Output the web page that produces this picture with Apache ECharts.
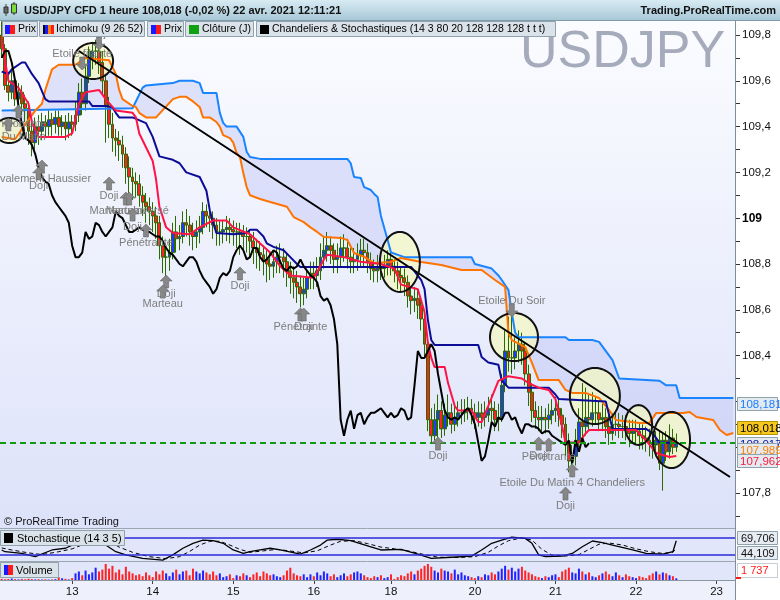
<!DOCTYPE html>
<html>
<head>
<meta charset="utf-8">
<script src="https://cdn.jsdelivr.net/npm/echarts/dist/echarts.min.js"></script>
<style>html,body{margin:0;padding:0;background:#fff;}#chart{width:780px;height:600px;}</style>
</head>
<body>
<div id="chart"></div>
<script>
// ---------- time slots (hourly) ----------
const sessions = [['12',3,23],['13',0,23],['14',0,23],['15',0,23],['16',0,22],['18',23,23],['19',0,23],['20',0,23],['21',0,23],['22',0,23],['23',0,5]];
const shownDays = ['13','14','15','16','18','20','21','22','23'];

// ---------- candles ----------
const opens = [
109.80,109.74,109.58,109.55,109.60,109.52,109.55,109.50,109.48,109.38,
109.33,109.40,109.38,109.42,109.40,109.43,109.41,109.44,109.40,109.42,
109.39,109.42,109.41,109.45,109.55,109.50,109.62,109.70,109.73,109.73,
109.68,109.60,109.49,109.41,109.35,109.34,109.32,109.28,109.22,109.18,
109.16,109.15,109.10,109.07,109.05,109.03,109.01,108.98,108.88,108.83,
108.83,108.85,108.94,108.91,108.92,108.98,108.97,108.94,108.92,108.94,
108.96,109.03,109.01,109.00,108.97,108.94,108.94,108.95,108.96,108.95,
108.94,108.94,108.93,108.92,108.92,108.90,108.87,108.85,108.84,108.82,
108.80,108.79,108.81,108.83,108.83,108.81,108.77,108.74,108.72,108.70,
108.67,108.69,108.74,108.76,108.75,108.77,108.83,108.86,108.88,108.86,
108.82,108.83,108.87,108.87,108.83,108.81,108.82,108.84,108.86,108.85,
108.81,108.78,108.77,108.79,108.78,108.79,108.82,108.79,108.77,108.75,
108.74,108.72,108.66,108.64,108.65,108.62,108.56,108.45,108.12,108.05,
108.12,108.16,108.08,108.14,108.15,108.10,108.13,108.15,108.15,108.16,
108.17,108.15,108.13,108.15,108.13,108.14,108.17,108.16,108.12,108.13,
108.27,108.42,108.39,108.39,108.42,108.45,108.42,108.32,108.24,108.16,
108.13,108.12,108.13,108.12,108.14,108.16,108.17,108.14,108.10,108.02,
107.94,107.96,108.03,108.11,108.09,108.13,108.12,108.15,108.15,108.12,
108.13,108.09,108.06,108.10,108.10,108.09,108.09,108.08,108.06,108.07,
108.07,108.05,108.04,108.03,108.02,108.01,108.03,107.93,108.03,107.98,
108.04,108.00];
const closes = [
109.74,109.58,109.55,109.60,109.52,109.55,109.50,109.48,109.38,109.33,
109.40,109.38,109.42,109.40,109.43,109.41,109.44,109.40,109.42,109.39,
109.42,109.41,109.45,109.55,109.50,109.62,109.70,109.73,109.73,109.68,
109.60,109.49,109.41,109.35,109.34,109.32,109.28,109.22,109.18,109.16,
109.15,109.10,109.07,109.05,109.03,109.01,108.98,108.88,108.83,108.83,
108.85,108.94,108.91,108.92,108.98,108.97,108.94,108.92,108.94,108.96,
109.03,109.01,109.00,108.97,108.94,108.94,108.95,108.96,108.95,108.94,
108.94,108.93,108.92,108.92,108.90,108.87,108.85,108.84,108.82,108.80,
108.79,108.81,108.83,108.83,108.81,108.77,108.74,108.72,108.70,108.67,
108.69,108.74,108.76,108.75,108.77,108.83,108.86,108.88,108.86,108.82,
108.83,108.87,108.87,108.83,108.81,108.82,108.84,108.86,108.85,108.81,
108.78,108.77,108.79,108.78,108.79,108.82,108.79,108.77,108.75,108.74,
108.72,108.66,108.64,108.65,108.62,108.56,108.45,108.12,108.05,108.12,
108.16,108.08,108.14,108.15,108.10,108.13,108.15,108.15,108.16,108.17,
108.15,108.13,108.15,108.13,108.14,108.17,108.16,108.12,108.13,108.27,
108.42,108.39,108.39,108.42,108.45,108.42,108.32,108.24,108.16,108.13,
108.12,108.13,108.12,108.14,108.16,108.17,108.14,108.10,108.02,107.94,
107.96,108.03,108.11,108.09,108.13,108.12,108.15,108.15,108.12,108.13,
108.09,108.06,108.10,108.10,108.09,108.09,108.08,108.06,108.07,108.07,
108.05,108.04,108.03,108.02,108.01,108.03,107.93,108.03,107.98,108.04,
108.00,108.018];
const lows = [
109.70,109.56,109.51,109.52,109.49,109.48,109.45,109.42,109.32,109.27,
109.30,109.32,109.34,109.35,109.36,109.36,109.37,109.36,109.36,109.34,
109.35,109.36,109.38,109.42,109.45,109.47,109.59,109.65,109.67,109.63,
109.54,109.33,109.35,109.29,109.27,109.25,109.22,109.15,109.11,109.08,
109.09,109.05,109.01,108.98,108.97,108.94,108.91,108.82,108.76,108.73,
108.77,108.82,108.85,108.86,108.89,108.92,108.88,108.86,108.87,108.89,
108.93,108.96,108.94,108.91,108.88,108.88,108.89,108.90,108.89,108.88,
108.87,108.84,108.86,108.85,108.83,108.80,108.78,108.77,108.75,108.72,
108.73,108.74,108.76,108.76,108.74,108.70,108.67,108.65,108.63,108.61,
108.62,108.65,108.69,108.69,108.70,108.73,108.78,108.81,108.80,108.76,
108.76,108.79,108.81,108.78,108.76,108.76,108.77,108.79,108.79,108.76,
108.73,108.72,108.72,108.73,108.74,108.75,108.75,108.72,108.69,108.68,
108.66,108.61,108.58,108.59,108.56,108.51,108.39,108.07,108.02,108.03,
108.04,108.04,108.05,108.09,108.06,108.07,108.09,108.10,108.11,108.12,
108.10,108.08,108.09,108.08,108.09,108.11,108.11,108.07,108.07,108.11,
108.24,108.33,108.32,108.34,108.37,108.36,108.27,108.18,108.11,108.08,
108.07,108.07,108.06,108.08,108.10,108.11,108.09,108.04,107.96,107.89,
107.90,107.92,108.00,108.04,108.05,108.07,108.09,108.10,108.07,108.07,
108.04,108.01,108.03,108.05,108.04,108.04,108.03,108.00,108.02,108.02,
107.99,107.99,107.98,107.96,107.95,107.96,107.90,107.81,107.94,107.95,
107.97,107.98];
const highs = [
109.86,109.76,109.64,109.65,109.63,109.59,109.58,109.54,109.51,109.42,
109.44,109.45,109.46,109.45,109.47,109.46,109.47,109.47,109.45,109.45,
109.46,109.45,109.51,109.59,109.61,109.67,109.75,109.77,109.78,109.77,
109.73,109.63,109.53,109.46,109.39,109.38,109.36,109.31,109.27,109.22,
109.20,109.19,109.14,109.11,109.09,109.07,109.05,109.01,108.92,108.89,
108.91,108.98,109.01,108.97,109.03,109.04,109.01,108.98,108.99,109.01,
109.07,109.06,109.05,109.03,109.00,108.99,108.99,109.01,109.00,108.99,
108.98,108.98,108.97,108.96,108.95,108.94,108.91,108.90,108.88,108.86,
108.85,108.86,108.88,108.89,108.87,108.85,108.81,108.79,108.77,108.75,
108.74,108.78,108.81,108.81,108.83,108.89,108.92,108.94,108.92,108.89,
108.89,108.92,108.93,108.91,108.87,108.87,108.89,108.91,108.91,108.89,
108.85,108.82,108.84,108.83,108.84,108.86,108.85,108.82,108.81,108.79,
108.78,108.75,108.70,108.70,108.69,108.65,108.59,108.48,108.17,108.19,
108.23,108.20,108.19,108.23,108.19,108.18,108.20,108.21,108.21,108.22,
108.21,108.19,108.20,108.19,108.20,108.22,108.23,108.20,108.19,108.32,
108.51,108.57,108.60,108.48,108.51,108.50,108.46,108.36,108.28,108.20,
108.18,108.18,108.17,108.19,108.21,108.22,108.21,108.17,108.13,108.06,
108.01,108.08,108.17,108.28,108.26,108.23,108.24,108.22,108.20,108.19,
108.17,108.14,108.15,108.16,108.15,108.14,108.14,108.12,108.12,108.12,
108.11,108.10,108.09,108.08,108.07,108.07,108.07,108.06,108.07,108.10,
108.08,108.06];
const volumes = [
1200,800,1000,1500,900,600,1100,700,1300,900,
600,800,500,700,400,600,900,3000,1800,1200,
600,2000,7000,9000,5000,10000,6000,8000,13000,9000,
11000,17000,12000,15000,8000,11000,6000,14000,9000,7000,
5000,6000,4000,8000,5000,3000,9000,6000,10000,7000,
4000,8000,11000,6000,9000,10000,5000,12000,9000,7000,
10000,8000,6000,9000,5000,7000,3000,4000,6000,2000,
5000,4000,7000,5000,3000,6000,8000,4000,9000,7000,
5000,6000,4000,3000,5000,10000,13000,7000,5000,4000,
6000,3000,6000,4000,8000,5000,9000,7000,4000,6000,
3000,5000,7000,4000,6000,8000,9000,7000,5000,3000,
2000,4000,3000,5000,2000,3000,6000,1000,3000,5000,
4000,7000,9000,6000,10000,12000,15000,17000,14000,10000,
8000,12000,10000,9000,7000,11000,6000,8000,5000,4000,
3000,2000,4000,3000,6000,5000,8000,6000,9000,12000,
15000,11000,13000,9000,12000,14000,10000,8000,6000,4000,
3000,2000,4000,3000,5000,6000,3000,9000,11000,13000,
8000,7000,12000,9000,6000,8000,4000,3000,5000,7000,
9000,6000,4000,8000,5000,3000,6000,4000,3000,2000,
4000,3000,2000,5000,7000,9000,6000,8000,7000,5000,
4000,1737];

// ---------- Ichimoku lines [slot, price] ----------
const tenkan = [[0,109.78],[2,109.60],[3,109.59],[5,109.57],[8,109.50],[9,109.42],[11,109.355],[19,109.355],[21,109.37],[23,109.50],[25,109.55],[29,109.56],[31,109.52],[34,109.47],[39,109.46],[40,109.44],[41,109.37],[43,109.31],[45,109.25],[46,109.17],[47,109.05],[49,108.96],[51,108.935],[56,108.93],[59,108.96],[63,108.99],[67,108.99],[69,108.96],[74,108.93],[77,108.89],[80,108.85],[83,108.79],[86,108.75],[93,108.74],[94,108.765],[96,108.82],[97,108.84],[102,108.83],[107,108.81],[113,108.80],[117,108.78],[119,108.71],[124,108.69],[126,108.59],[127,108.455],[128,108.39],[129,108.35],[132,108.35],[133,108.28],[135,108.18],[136,108.16],[140,108.16],[142,108.11],[143,108.11],[145,108.18],[148,108.29],[151,108.31],[155,108.30],[157,108.28],[160,108.26],[163,108.25],[165,108.21],[167,108.09],[168,108.02],[172,108.02],[174,108.06],[175,108.075],[189,108.075],[192,108.03],[195,107.975],[199,107.957],[201,107.962]];
const kijun = [[0,109.64],[2,109.63],[3,109.65],[6,109.68],[7,109.68],[9,109.63],[11,109.59],[13,109.52],[14,109.51],[26,109.51],[27,109.49],[31,109.49],[33,109.485],[34,109.46],[35,109.44],[39,109.44],[43,109.415],[45,109.355],[47,109.27],[51,109.255],[53,109.24],[55,109.20],[59,109.18],[61,109.12],[62,109.035],[63,108.98],[64,108.935],[69,108.93],[73,108.935],[74,108.95],[76,108.95],[78,108.92],[79,108.89],[81,108.875],[84,108.86],[86,108.83],[88,108.80],[89,108.787],[122,108.787],[125,108.73],[126,108.69],[127,108.555],[128,108.468],[129,108.446],[142,108.446],[143,108.394],[145,108.37],[148,108.36],[149,108.29],[151,108.26],[163,108.26],[165,108.23],[166,108.21],[180,108.20],[182,108.08],[192,108.08],[194,108.06],[196,108.02],[201,108.017]];
const senkouA = [[0,109.355],[4,109.345],[7,109.41],[10,109.47],[12,109.50],[13,109.56],[15,109.65],[17,109.67],[22,109.67],[25,109.70],[32,109.69],[34,109.63],[35,109.56],[36,109.52],[39,109.49],[40,109.486],[41,109.46],[43,109.44],[46,109.44],[51,109.52],[53,109.53],[55,109.53],[57,109.51],[59,109.486],[60,109.44],[62,109.44],[64,109.42],[65,109.40],[66,109.363],[68,109.35],[69,109.33],[70,109.285],[71,109.267],[72,109.197],[73,109.136],[74,109.10],[77,109.084],[79,109.075],[85,109.05],[87,109.005],[90,108.983],[92,108.96],[94,108.94],[96,108.918],[101,108.914],[103,108.905],[105,108.848],[108,108.831],[111,108.804],[116,108.809],[119,108.826],[125,108.809],[131,108.796],[137,108.774],[143,108.774],[145,108.752],[147,108.73],[150,108.70],[151,108.499],[152,108.468],[156,108.437],[158,108.368],[160,108.293],[166,108.293],[168,108.25],[170,108.237],[174,108.237],[178,108.215],[181,108.162],[183,108.119],[190,108.106],[193,108.106],[195,108.149],[203,108.149],[205,108.154],[207,108.132],[212,108.119],[214,108.075],[216,108.053],[218,108.062]];
const senkouB = [[0,109.47],[39,109.48],[42,109.57],[43,109.58],[51,109.59],[53,109.60],[57,109.60],[59,109.59],[60,109.547],[64,109.547],[65,109.46],[66,109.416],[67,109.40],[70,109.40],[72,109.355],[73,109.29],[74,109.267],[77,109.259],[103,109.259],[104,109.24],[105,109.18],[107,109.176],[108,109.136],[110,109.123],[111,109.106],[112,109.093],[113,109.01],[115,108.905],[116,108.85],[120,108.83],[140,108.83],[141,108.80],[146,108.78],[148,108.75],[149,108.73],[151,108.686],[152,108.586],[153,108.50],[154,108.48],[168,108.48],[169,108.468],[176,108.468],[178,108.46],[182,108.38],[184,108.30],[196,108.29],[198,108.27],[201,108.27],[202,108.215],[218,108.215]];
const chikouShift = 26;
const dailyClose = 108.017;
const trendline = [[23,109.73],[217,107.87]];

// ---------- stochastic [slot, value] ----------
const stochK = [[0,38],[1,32],[6,26],[10,15],[15,38],[19,44],[24,70],[27,85],[30,75],[31,55],[34,32],[37,21],[42,9],[48,3],[51,21],[54,44],[57,61],[60,72],[63,70],[66,61],[69,38],[72,26],[74,32],[77,38],[80,44],[83,38],[89,24],[92,38],[95,55],[97,72],[100,75],[104,70],[110,49],[113,38],[119,40],[124,24],[128,9],[134,13],[140,17],[143,38],[146,61],[149,72],[152,82],[156,78],[158,61],[160,21],[162,15],[167,17],[170,26],[173,49],[176,69],[179,63],[182,55],[188,38],[192,26],[197,24],[200,32],[201,69.706]];
const stochD = [[0,45],[3,38],[8,28],[12,22],[17,32],[21,42],[25,60],[28,75],[32,68],[35,48],[39,30],[44,15],[49,8],[53,15],[56,33],[59,55],[62,68],[65,68],[68,55],[71,40],[74,30],[78,35],[82,40],[85,36],[90,28],[94,35],[98,55],[101,68],[105,70],[109,60],[113,48],[117,42],[121,35],[126,22],[130,13],[136,12],[141,15],[145,30],[148,52],[151,70],[155,80],[158,72],[161,40],[164,20],[168,17],[172,22],[175,40],[178,58],[181,62],[185,55],[189,42],[193,32],[197,26],[200,30],[201,44.109]];
const stochLevels = [80, 20];

// ---------- pattern annotations ----------
const annoIdx   = [29, 24, 5, 2, 12, 11, 32, 37, 38, 39, 43, 49, 48, 71, 89, 90, 130, 152, 160, 163, 170, 168];
const annoPrice = [109.734,109.647,109.494,109.438,109.254,109.224,109.18,109.114,109.114,109.044,108.975,108.752,108.708,108.787,108.608,108.608,108.044,108.569,108.044,108.04,107.927,107.826];
const annoDir   = [-1,-1,1,1,1,1,1,1,1,1,1,1,1,1,1,1,1,-1,1,1,1,1];
const annoText  = ['Doji','Etoile filante','Englobante','Etoile Du Matin','Avalement Haussier','Doji','Doji','Marteau','Marteau Inversé','Doji','Pénétrante','Doji','Marteau','Doji','Pénétrante','Doji','Doji','Etoile Du Soir','Doji','Pénétrante','Etoile Du Matin 4 Chandeliers','Doji'];

// ---------- drawn ellipses (slot range, price range) ----------
const circFrom = [21.3, 112.7, 145.5, 169.3, 185.7, 194.1, -2];
const circTo   = [33.2, 124.6, 159.8, 184.2, 193.8, 205.1, 6.6];
const circHi   = [109.765, 108.94, 108.586, 108.346, 108.184, 108.154, 109.438];
const circLo   = [109.608, 108.678, 108.376, 108.101, 108.01, 107.909, 109.328];

// ---------- labels ----------
const headerText = 'USD/JPY CFD 1 heure 108,018 (-0,02 %) 22 avr. 2021 12:11:21';
const tagTexts = ['108,181','108,018','108,017','107,989','107,962'];
const stochTags = ['69,706','44,109'];
const volumeTag = '1 737';

// =====================================================
const FONT = '"Liberation Sans", Arial, sans-serif';
const slots = [], slotLabel = [];
sessions.forEach(([d,h0,h1]) => {
  for (let h = h0; h <= h1; h++) {
    slots.push(d + ' ' + h + 'h');
    slotLabel.push(h === h0 && shownDays.includes(d) ? d : '');
  }
});
const candleData = opens.map((o,i) => [o, closes[i], lows[i], highs[i]]);
const chikou = closes.slice(chikouShift).map((c,k) => [k, c]);

function pxFn(api) {
  const a = api.coord([0, 108]), b = api.coord([1, 108]);
  const w = b[0] - a[0];
  return (i, p) => [a[0] + i * w, api.coord([0, p])[1]];
}
function ellipsePts(cx, cy, rx, ry) {
  const pts = [];
  for (let k = 0; k < 64; k++) { const t = k / 64 * Math.PI * 2; pts.push([cx + rx * Math.cos(t), cy + ry * Math.sin(t)]); }
  return pts;
}
function ellipseFor(api, k) {
  const px = pxFn(api);
  const p1 = px(circFrom[k], circHi[k]), p2 = px(circTo[k], circLo[k]);
  return ellipsePts((p1[0]+p2[0])/2, (p1[1]+p2[1])/2, Math.abs(p2[0]-p1[0])/2, Math.abs(p2[1]-p1[1])/2);
}

// ---------- graphics (chrome) ----------
const G = [];
function rect(x,y,w,h,fill,stroke,z){ G.push({type:'rect', silent:true, z:(z===undefined?100:z), shape:{x:x,y:y,width:w,height:h}, style:{fill:fill, stroke:stroke||null, lineWidth:1}}); }
function lin(x1,y1,x2,y2,stroke,w,z){ G.push({type:'line', silent:true, z:(z===undefined?100:z), shape:{x1:x1,y1:y1,x2:x2,y2:y2}, style:{stroke:stroke, lineWidth:w||1}}); }
function txt(x,y,s,opt,z){ G.push({type:'text', silent:true, z:(z===undefined?101:z), x:x, y:y, style:Object.assign({text:s, font:'11px '+FONT, fill:'#000', align:'left', textAlign:'left', verticalAlign:'middle', textVerticalAlign:'middle'}, opt||{})}); }
const grad = (c1,c2) => new echarts.graphic.LinearGradient(0,0,0,1,[{offset:0,color:c1},{offset:1,color:c2}]);
const LEG = '10.5px ' + FONT;

// backgrounds
rect(0,20,735,508, grad('#fbfcff','#dce2f9'), null, -10);
rect(0,528,735,33,'#e1e6fa',null,-10);
rect(0,561,735,19,'#e1e6fa',null,-10);
rect(0,580,735,20,'#eef1fb',null,-10);
rect(735,20,45,580,'#ffffff',null,-10);
txt(520,53,'USDJPY',{font:'52px '+FONT, fill:'#a5abbb'},-5);

// panel borders
lin(0,528.5,735,528.5,'#9aa6b0',1,99);
lin(0,561.5,735,561.5,'#9aa6b0',1,99);
lin(0,580.5,735,580.5,'#8796a3',1,99);
lin(735.5,20,735.5,600,'#7d8e9a',1,99);

// header
rect(0,0,780,20, grad('#d8ebf3','#a8c8d7'));
lin(0,20.5,780,20.5,'#7f9aa8',1);
lin(6,4,6,16,'#444',1); rect(4,7,4,6,'#666','#333');
lin(14,2,14,15,'#333',1); rect(11.5,4,5,9,'#7cdb3a','#333');
txt(24,10.5,headerText,{font:'bold 11px '+FONT, fill:'#111'});
txt(776,10.5,'Trading.ProRealTime.com',{font:'bold 11px '+FONT, fill:'#111', align:'right', textAlign:'right'});

// legend row
const legBox = [[2,35],[39,105],[147,36],[185,68],[256,299]];
legBox.forEach(([x,w]) => rect(x+0.5,21.5,w,15,'#dae3e9','#8fa2ad'));
rect(5,25,5,9,'#1a1aff'); rect(10,25,5,9,'#ff1a1a'); txt(18,29.5,'Prix',{font:LEG});
rect(43,25,2,9,'#000'); rect(45,25,3,9,'#1a1aff'); rect(48,25,3,9,'#ff8000'); rect(51,25,3,9,'#ff1a1a'); txt(56,29.5,'Ichimoku (9 26 52)',{font:LEG});
rect(151,25,5,9,'#1a1aff'); rect(156,25,5,9,'#ff1a1a'); txt(164,29.5,'Prix',{font:LEG});
rect(189,25,10,9,'#10a010'); txt(202,29.5,'Clôture (J)',{font:LEG});
rect(260,25,9,9,'#000'); txt(272,29.5,'Chandeliers & Stochastiques (14 3 80 20 128 128 128 t t t)',{font:LEG});

txt(4,522,'© ProRealTime Trading',{font:'11px '+FONT, fill:'#111'});

// stochastic / volume labels
rect(0.5,530.5,124,15,'#dae3e9','#8fa2ad'); rect(4,533,9,10,'#000'); txt(17,538.5,'Stochastique (14 3 5)');
rect(0.5,562.5,58,15,'#dae3e9','#8fa2ad'); rect(4,565,4,10,'#1a1aff'); rect(8,565,5,10,'#ff1a1a'); txt(16,570.5,'Volume');
rect(737.5,531.5,40,13,'#e6ecf1','#8fa2ad'); txt(741,538.5,stochTags[0],{fill:'#111'});
rect(737.5,546.5,40,13,'#e6ecf1','#8fa2ad'); txt(741,553.5,stochTags[1],{fill:'#111'});
rect(737.5,563.5,40,14,'#ffffff','#c4ccd4'); txt(741,570.5,volumeTag,{fill:'#ff1a1a'});
lin(736,578,741,578,'#ff1a1a',2);

// price tags on right axis
const tagTop = [397,421,437,443,454];
const tagFill = ['#e3ebf1','#f7c81e','#e3ebf1','#e3ebf1','#e3ebf1'];
const tagStroke = ['#8fa2ad','#b89300','#8fa2ad','#8fa2ad','#8fa2ad'];
const tagColor = ['#1c7cff','#000000','#1010a0','#ff7f00','#ff1a40'];
tagTexts.forEach((t,k) => { rect(737.5,tagTop[k]+0.5,40,13,tagFill[k],tagStroke[k],100+k*2); txt(740,tagTop[k]+7.5,t,{fill:tagColor[k], font:'11.5px '+FONT},101+k*2); });

// ---------- chart ----------
const chart = echarts.init(document.getElementById('chart'), null, {renderer:'canvas', width:780, height:600});
const lineS = (data,color,z,extra) => Object.assign({type:'line', xAxisIndex:0, yAxisIndex:0, data:data, symbol:'none', showSymbol:false, silent:true, z:z||4, lineStyle:{color:color, width:2}}, extra||{});

const option = {
  animation:false,
  backgroundColor:'#ffffff',
  grid:[
    {left:0, right:45, top:12.1, height:503.8},
    {left:0, right:45, top:532, height:29},
    {left:0, right:45, top:563, height:17}
  ],
  xAxis:[
    {type:'category', gridIndex:0, data:slots, show:false, boundaryGap:true},
    {type:'category', gridIndex:1, data:slots, show:false, boundaryGap:true},
    {type:'category', gridIndex:2, data:slots, boundaryGap:true,
     axisLine:{show:false},
     axisTick:{show:true, interval:(i)=>slotLabel[i]!=='', alignWithLabel:true, length:4, lineStyle:{color:'#444'}},
     axisLabel:{interval:(i)=>slotLabel[i]!=='', formatter:(v,i)=>slotLabel[i], color:'#111', fontSize:11.5, fontFamily:FONT, margin:6},
     splitLine:{show:false}}
  ],
  yAxis:[
    {type:'value', gridIndex:0, position:'right', min:107.7, max:109.9, interval:0.1,
     splitLine:{show:false}, axisLine:{show:false},
     axisTick:{show:true, length:5, lineStyle:{color:'#333'}},
     axisLabel:{color:'#111', fontSize:11.5, fontFamily:FONT, margin:7,
       formatter:(v)=>{ const t=Math.round(v*10); if(t%2!==0||t<1078||t>1098) return ''; if(t%10===0) return '{b|'+(t/10)+'}'; return (t/10).toFixed(1).replace('.',','); },
       rich:{b:{fontWeight:'bold', fontSize:12, fontFamily:FONT, color:'#000'}}}},
    {type:'value', gridIndex:1, min:0, max:100, show:false},
    {type:'value', gridIndex:2, min:0, max:18000, show:false}
  ],
  series:[
    {type:'custom', xAxisIndex:0, yAxisIndex:0, z:1, silent:true, clip:false, data:[[0,108.5]],
     renderItem:(params, api)=>{
       const px = pxFn(api); const pts = [];
       senkouA.forEach(([i,v]) => pts.push(px(i,v)));
       for (let k = senkouB.length-1; k >= 0; k--) pts.push(px(senkouB[k][0], senkouB[k][1]));
       return {type:'polygon', shape:{points:pts}, style:{fill:'rgba(188,194,246,0.42)'}};
     }},
    {type:'custom', xAxisIndex:0, yAxisIndex:0, z:2, silent:true, clip:false, data:circFrom.map(()=>[0,108.5]),
     renderItem:(params, api)=>({type:'polygon', shape:{points:ellipseFor(api, params.dataIndex)}, style:{fill:'rgba(243,247,195,0.75)'}})},
    {type:'candlestick', xAxisIndex:0, yAxisIndex:0, z:3, silent:true, data:candleData, barWidth:'100%',
     itemStyle:{color:'#1f3bff', color0:'#ff2020', borderColor:'#2b6a00', borderColor0:'#2b6a00', borderColorDoji:'#2b6a00', borderWidth:1},
     markLine:{silent:true, symbol:'none', label:{show:false}, lineStyle:{color:'#129a12', width:2, type:[6,4]}, data:[{yAxis:dailyClose}]}},
    lineS(senkouB,'#1a84ff',4),
    lineS(senkouA,'#ff7300',4),
    lineS(kijun,'#0c0c96',4),
    lineS(tenkan,'#ff1447',4),
    lineS(chikou,'#000000',4),
    lineS(trendline,'#000000',5,{lineStyle:{color:'#000', width:2}}),
    {type:'custom', xAxisIndex:0, yAxisIndex:0, z:6, silent:true, clip:false, data:circFrom.map(()=>[0,108.5]),
     renderItem:(params, api)=>({type:'polygon', shape:{points:ellipseFor(api, params.dataIndex)}, style:{fill:null, stroke:'#111', lineWidth:2}})},
    {type:'custom', xAxisIndex:0, yAxisIndex:0, z:7, silent:true, clip:false, data:annoIdx.map((i,k)=>[i, annoPrice[k]]),
     renderItem:(params, api)=>{
       const k = params.dataIndex; const pt = api.coord([annoIdx[k], annoPrice[k]]);
       const x = pt[0], y = pt[1], d = annoDir[k];
       const s = d > 0 ? 1 : -1;
       const arrow = [[x,y],[x+6,y+6*s],[x+2.5,y+6*s],[x+2.5,y+13*s],[x-2.5,y+13*s],[x-2.5,y+6*s],[x-6,y+6*s]];
       const ty = d > 0 ? y + 19 : y - 16;
       return {type:'group', children:[
         {type:'polygon', shape:{points:arrow}, style:{fill:'#878787', stroke:'#666', lineWidth:0.6}},
         {type:'text', style:{text:annoText[k], x:x, y:ty, align:'center', textAlign:'center', verticalAlign:'middle', textVerticalAlign:'middle', fill:'#7d7d7d', font:'11px '+FONT}}
       ]};
     }},
    {type:'line', xAxisIndex:1, yAxisIndex:1, data:stochK, symbol:'none', silent:true, z:4, lineStyle:{color:'#000', width:1.3},
     markLine:{silent:true, symbol:'none', label:{show:false}, lineStyle:{color:'#2a2ad8', width:1.5, type:'solid'}, data:stochLevels.map(v=>({yAxis:v}))}},
    {type:'line', xAxisIndex:1, yAxisIndex:1, data:stochD, symbol:'none', silent:true, z:4, lineStyle:{color:'#000', width:1, type:[4,3]}},
    {type:'bar', xAxisIndex:2, yAxisIndex:2, silent:true, barWidth:'60%',
     data:volumes.map((v,i)=>({value:v, itemStyle:{color: closes[i] >= opens[i] ? '#2222ff' : '#ff2323'}}))}
  ],
  graphic:{elements:G}
};
chart.setOption(option);
</script>
</body>
</html>
